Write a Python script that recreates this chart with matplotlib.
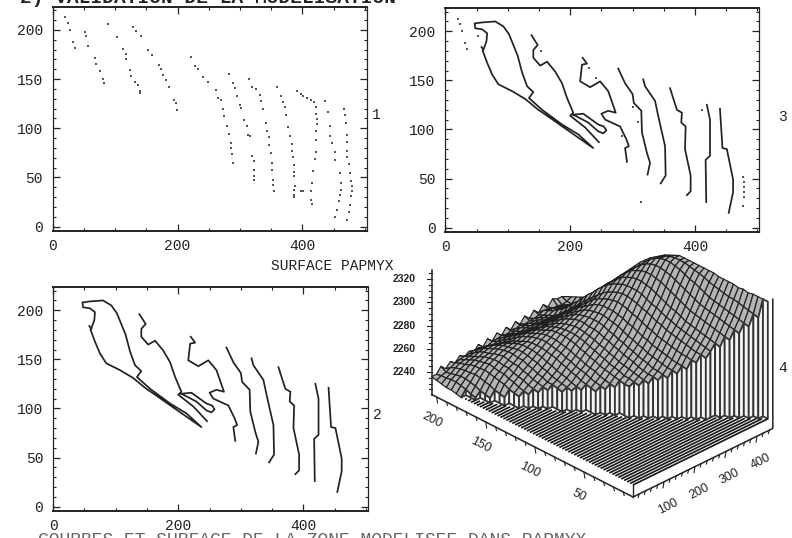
import numpy as np
import matplotlib
matplotlib.use('Agg')
import matplotlib.pyplot as plt
from matplotlib.collections import PolyCollection, LineCollection

plt.rcParams['font.family'] = ['Liberation Mono', 'DejaVu Sans Mono']

INK = '#222222'

# level curves, panels 2 and 3 (x values then y values)
curve_a_x = [58,61,66,67,59,48,47,59,80,93,102,109,116,123,131,141,134,155,187,213,237,219,192,163,149,128,107,85,75,67,60]
curve_a_y = [184,181,190,198,202,203,208,209,210,205,197,186,175,158,144,138,132,120,105,95,81,89,101,114,120,131,139,146,156,168,180]
curve_b_x = [138,148,141,141,152,163,176,187,195,205,200,224,246]
curve_b_y = [196,186,181,173,165,169,159,147,132,117,114,102,87]
curve_c_x = [220,227,219,216,232,248,261,273,261,250,256,280,290,294,288,291]
curve_c_y = [173,167,166,149,143,149,139,117,119,116,110,103,90,83,81,67]
curve_d_x = [205,221,245,254,258,253,245,229,211,205]
curve_d_y = [115,116,105,103,99,96,98,107,113,115]
curve_e_x = [277,288,300,302,314,315,323,328,324]
curve_e_y = [162,147,136,127,119,97,76,66,54]
curve_f_x = [317,320,336,341,352,353,345]
curve_f_y = [151,144,129,114,83,53,45]
curve_g_x = [360,371,379,378,385,384,393,393,387]
curve_g_y = [142,120,117,107,103,80,53,37,33]
curve_h_x = [419,424,424,417,418]
curve_h_y = [125,110,73,69,26]
curve_i_x = [440,444,451,461,461,454]
curve_i_y = [121,81,80,49,36,15]

# scanned points, panel 1
dots_x = [20,24,27,32,35, 51,54,57, 67,70,75,80,82,
          89,103,113,118,118,124,126,132,137,140,140, 128,134,141,
          153,159,171,174,177,181,187,194,197,199,
          221,228,233,240,249,262,265,269,273,274,280,282,285,286,287,289,
          283,289,292,296,300,302,307,311,313,316,320,322,323,323,322,
          314,319,326,332,334,337,341,344,347,347,350,351,352,353,353,355,
          359,365,369,372,374,377,380,383,384,385,387,387,387,388,387,387,387,
          392,397,401,407,413,419,422,422,423,423, 397,401,
          422,422,421,420,417,415,413,414,416,
          437,441,444,445,447,452,453,460,462,462,461,459,455,453,
          466,468,470,471,471,471,472,474,476,478,479,479,478,477,475,472]
dots_y = [213,207,200,188,182, 198,194,184, 171,165,158,150,146,
          206,193,181,176,170,159,153,147,144,138,136, 203,199,194,
          180,175,164,160,154,149,142,129,126,119,
          173,163,160,152,147,139,131,129,120,112,102,94,85,80,74,65,
          155,146,141,133,124,121,108,102,93,92,72,67,58,51,47,
          150,142,140,134,128,120,105,97,91,83,75,65,58,47,42,36,
          142,133,127,122,114,101,92,84,77,71,63,56,51,41,37,32,30,
          138,135,133,131,129,127,122,115,109,104, 36,36,
          97,88,76,69,57,44,36,27,23,
          128,117,102,92,85,76,68,54,44,37,32,26,17,10,
          120,114,105,93,86,77,71,64,54,46,41,36,31,22,15,7]

# points left over in panel 3
extra_x = [20,24,27,32,35,52,153,230,242,283,301,308,314,411,477,478,479,479,478,477]
extra_y = [213,207,200,188,182,195,180,163,152,93,123,108,26,120,52,46,41,36,31,22]

# surface 4: one list per x, heights above z_base, going up in y from y_start to 205 by 5
z_base = 2200
y_step = 5
x_grid = [0,15,30,45,60,75,90,105,120,135,150,165,180,195,210,225,240,255,270,285,300,315,330,345,360,375,390,405,420,435]
y_start = [175,165,155,145,135,130,125,120,110,105,100,90,85,80,70,65,60,55,50,45,40,35,30,30,25,20,15,10,5,0]
z_cols = [
 [31,32,33,33,34,35,36],
 [33,34,36,37,38,38,37,37,36],
 [35,36,37,39,40,41,41,40,39,38,41],
 [38,39,40,42,43,44,45,44,44,43,42,40,37],
 [41,42,43,45,46,47,48,49,48,48,47,45,44,42,41],
 [43,44,45,47,48,50,50,51,52,51,50,49,47,45,43,38],
 [45,46,47,49,50,51,53,53,54,54,53,52,50,48,46,44,42],
 [47,48,49,50,52,53,55,55,56,57,56,55,53,52,50,47,44,39],
 [48,49,50,50,52,53,55,56,58,58,59,59,58,57,55,53,51,48,45,42],
 [49,50,51,52,53,55,56,58,59,60,61,61,60,59,58,56,54,51,48,45,39],
 [50,51,52,54,55,56,58,59,61,62,63,63,63,62,60,58,56,53,50,47,44,44],
 [51,52,53,54,56,57,59,60,62,63,64,65,65,65,64,62,60,58,55,52,49,46,43,40],
 [53,54,55,56,58,59,60,62,63,65,66,67,68,68,67,66,64,62,59,56,53,50,47,45,45],
 [55,56,57,58,60,61,62,64,65,67,68,69,70,70,70,69,67,65,63,60,57,54,51,48,45,41],
 [58,58,59,60,61,62,63,65,66,68,69,71,72,73,73,73,72,70,68,66,63,60,57,54,51,48,46,46],
 [59,60,61,61,63,64,65,67,68,70,71,73,74,75,75,75,74,73,71,69,66,63,60,57,53,50,48,45,42],
 [61,62,63,64,65,66,67,69,70,72,73,75,76,77,78,78,77,76,74,72,69,66,62,59,56,53,50,48,46,47],
 [64,65,65,66,67,69,70,71,73,74,76,77,79,80,80,81,81,80,78,76,73,70,67,63,60,56,53,51,49,46,43],
 [66,67,68,68,70,71,72,74,75,77,78,80,81,83,84,84,84,83,82,80,77,74,71,67,64,60,57,54,51,49,47,48],
 [70,71,71,72,73,74,75,77,78,80,81,83,85,86,87,88,88,87,86,84,81,78,75,72,68,64,61,57,54,51,49,46,44],
 [74,75,75,76,77,78,79,80,82,83,85,87,88,90,91,92,92,92,91,89,86,83,80,76,72,69,65,61,57,54,52,49,47,49],
 [80,80,81,81,82,83,84,85,86,88,89,91,93,94,96,97,98,97,96,94,92,89,85,81,77,73,69,65,61,57,54,52,50,47,45],
 [84,85,85,86,87,88,89,90,91,93,94,96,98,99,101,102,103,103,102,100,98,95,91,87,83,79,74,70,65,61,57,54,52,50,48,50],
 [88,89,90,91,92,93,94,95,97,98,100,102,103,105,107,108,108,108,107,105,103,100,96,92,87,83,78,73,69,64,60,57,54,52,50,46],
 [92,93,94,95,96,97,98,99,101,103,104,106,108,110,112,113,114,114,113,111,109,105,101,97,92,87,82,77,72,67,63,59,56,54,52,49,51],
 [98,99,100,101,102,103,104,105,106,108,110,112,114,116,118,119,120,120,119,117,115,111,107,102,97,92,87,81,76,71,66,62,58,55,53,51,48,47],
 [104,105,106,107,108,109,110,111,112,114,116,118,120,122,124,125,126,126,125,123,120,116,112,107,102,96,91,85,80,74,69,64,60,57,54,52,50,48,52],
 [110,111,112,113,114,115,116,117,118,120,122,124,125,127,129,130,131,131,130,128,125,121,116,111,105,100,94,88,83,77,72,67,62,58,55,53,51,49,47,50],
 [118,119,120,121,122,123,123,124,125,126,127,129,130,131,132,133,133,133,132,130,127,122,118,112,107,101,95,89,83,78,73,68,63,59,56,54,52,50,48,48,50],
 [132,132,132,132,131,132,131,132,132,132,132,133,133,133,133,133,133,133,133,131,129,127,124,121,118,114,110,105,100,95,90,85,80,75,70,65,60,56,54,52,50,48],
]

W, H = 792, 538
fig = plt.figure(figsize=(W/100, H/100), dpi=100)


def axesFromPixels(left, right, top, bottom):
    return fig.add_axes([left/W, 1-bottom/H, (right-left)/W, (bottom-top)/H])


def drawFrame(left, right, top, bottom):
    ax = axesFromPixels(left, right, top, bottom)
    ax.set_xlim(0, 503)
    ax.set_ylim(-4.5, 223.7)
    ax.set_xticks([0, 200, 400])
    ax.set_xticks(range(0, 501, 50), minor=True)
    ax.set_yticks([0, 50, 100, 150, 200])
    ax.set_yticks(range(0, 221, 10), minor=True)
    ax.tick_params(which='major', direction='in', top=True, right=True, length=5, width=0.9, color=INK,
                   labelsize=10.5, labelcolor=INK)
    ax.tick_params(which='minor', direction='in', top=True, right=True, length=2.5, width=0.8, color=INK)
    ax.tick_params(axis='x', which='major', pad=6)
    ax.tick_params(axis='y', which='major', pad=7)
    for side in ['top', 'bottom']:
        ax.spines[side].set_linewidth(1.4)
        ax.spines[side].set_color(INK)
    for side in ['left', 'right']:
        ax.spines[side].set_linewidth(0.9)
        ax.spines[side].set_color(INK)
    return ax


def drawCurves(ax):
    curves = [(curve_a_x, curve_a_y), (curve_b_x, curve_b_y), (curve_c_x, curve_c_y),
              (curve_d_x, curve_d_y), (curve_e_x, curve_e_y), (curve_f_x, curve_f_y),
              (curve_g_x, curve_g_y), (curve_h_x, curve_h_y), (curve_i_x, curve_i_y)]
    for cx, cy in curves:
        ax.plot(cx, cy, color=INK, lw=1.25, solid_joinstyle='round')


ax1 = drawFrame(52.7, 366.7, 6.7, 231)
ax1.scatter(dots_x, dots_y, s=1.3, color='#555555', marker='s', linewidths=0)

ax3 = drawFrame(445.3, 759.3, 8, 232)
drawCurves(ax3)
ax3.scatter(extra_x, extra_y, s=1.2, color='#555555', marker='s', linewidths=0)

ax2 = drawFrame(53, 368, 287, 511)
drawCurves(ax2)

# surface panel: oblique projection onto pixel coordinates
ax4 = axesFromPixels(385, 792, 250, 530)
ax4.set_xlim(385, 792)
ax4.set_ylim(530, 250)
ax4.axis('off')

Z_BOX = 2220.6
Z_FLOOR = 2231


def project(x, y, z):
    sx = 633 + 0.31*np.asarray(x) - 0.982*np.asarray(y)
    sy = 497 - 0.152*np.asarray(x) - 0.5*np.asarray(y) - 1.16*(np.asarray(z)-Z_BOX)
    return sx, sy


def node(i, k):
    # height of column i at row y, None when the row is outside the surface
    y = k*y_step
    j = (y - y_start[i])//y_step
    if j < 0 or j >= len(z_cols[i]):
        return None
    return z_base + z_cols[i][j]


# floor hatching
segs = []
for y in np.arange(0, y_start[0], 3):
    xb = np.interp(y, y_start[::-1], x_grid[::-1])
    sx, sy = project([0, xb], [y, y], [Z_FLOOR, Z_FLOOR])
    segs.append(list(zip(sx, sy)))
ax4.add_collection(LineCollection(segs, colors='#1a1a1a', linewidths=1.25))

# mesh, far cells first
cells = []
n_rows = 205//y_step
for i in range(len(x_grid)-1):
    for k in range(n_rows):
        zs = [node(i, k), node(i+1, k), node(i+1, k+1), node(i, k+1)]
        if None in zs:
            continue
        xs = [x_grid[i], x_grid[i+1], x_grid[i+1], x_grid[i]]
        ys = [k*y_step, k*y_step, (k+1)*y_step, (k+1)*y_step]
        sx, sy = project(xs, ys, zs)
        depth = project(xs[0], ys[0], Z_BOX)[1]
        cells.append((depth, list(zip(sx, sy))))
cells.sort(key=lambda c: c[0])
ax4.add_collection(PolyCollection([c[1] for c in cells], facecolors='#b4b4b4', edgecolors='#1f1f1f', linewidths=0.85))

# curtain along the low edge of the surface
edge = [(0, y_start[0])]
for i in range(1, len(x_grid)):
    y = y_start[i-1]
    while y >= y_start[i]:
        if node(i, y//y_step) is not None:
            edge.append((i, y))
        y -= y_step
curtain = []
for (i0, y0), (i1, y1) in zip(edge[:-1], edge[1:]):
    z0 = node(i0, y0//y_step)
    z1 = node(i1, y1//y_step)
    xs = [x_grid[i0], x_grid[i1], x_grid[i1], x_grid[i0]]
    ys = [y0, y1, y1, y0]
    sx, sy = project(xs, ys, [z0, z1, Z_FLOOR, Z_FLOOR])
    curtain.append(list(zip(sx, sy)))
ax4.add_collection(PolyCollection(curtain, facecolors='#f4f4f4', edgecolors='#333333', linewidths=1.3))

# box and axes
sx, sy = project([0, 0, 0, 451, 451], [205, 0, 0, 0, 0], [Z_BOX, Z_BOX, Z_FLOOR, Z_BOX, 2332])
ax4.plot([sx[0], sx[1], sx[3], sx[4]], [sy[0], sy[1], sy[3], sy[4]], color=INK, lw=1.1)
ax4.plot([sx[1], sx[2]], [sy[1], sy[2]], color=INK, lw=1.0)
sx, sy = project([0, 0], [205, 205], [Z_BOX, 2328])
ax4.plot(sx, sy, color=INK, lw=1.1)

for z in np.arange(2225, 2326, 5):
    sx, sy = project(0, 205, z)
    major = z % 20 == 0
    ax4.plot([sx-(5 if major else 3), sx], [sy, sy], color=INK, lw=0.8)
    if major:
        ax4.text(sx-16, sy, str(z), ha='right', va='center', fontsize=7.5, color=INK,
                 family=['Liberation Sans', 'DejaVu Sans'], fontweight='bold')

for x in range(20, 441, 20):
    sx, sy = project(x, 0, Z_BOX)
    ax4.plot([sx, sx-1], [sy, sy+(6 if x % 100 == 0 else 3.5)], color=INK, lw=0.8)
    if x % 100 == 0:
        ax4.text(sx+4, sy+25, str(x), ha='center', va='center', rotation=27, fontsize=9, color=INK,
                 family=['Liberation Sans', 'DejaVu Sans'])

for y in range(10, 201, 10):
    sx, sy = project(0, y, Z_BOX)
    ax4.plot([sx, sx+1], [sy, sy+(6 if y % 50 == 0 else 3.5)], color=INK, lw=0.8)
    if y % 50 == 0:
        ax4.text(sx-5, sy+23, str(y), ha='center', va='center', rotation=-27, fontsize=9, color=INK,
                 family=['Liberation Sans', 'DejaVu Sans'])

# panel numbers and captions
for label, px, py in [('1', 376, 115), ('3', 782, 117), ('2', 377, 415), ('4', 783, 368)]:
    fig.text(px/W, 1-py/H, label, ha='center', va='center', fontsize=10.5, color=INK)
fig.text(332/W, 1-266/H, 'SURFACE PAPMYX', ha='center', va='center', fontsize=10.5, color=INK)
fig.text(20/W, 1-3/H, '2) VALIDATION DE LA MODELISATION', ha='left', va='baseline', fontsize=14, color=INK, fontweight='bold')
fig.text(38/W, 1-545/H, 'COURBES ET SURFACE DE LA ZONE MODELISEE DANS PAPMYX', ha='left', va='baseline', fontsize=13, color='#666666')

fig.savefig('out.png', dpi=100)
